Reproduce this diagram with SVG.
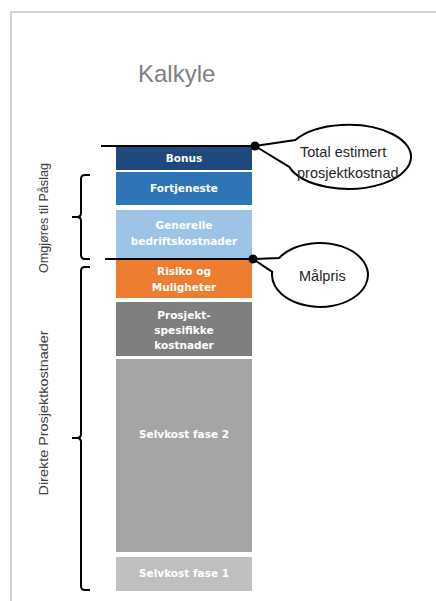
<svg xmlns="http://www.w3.org/2000/svg" width="436" height="601" viewBox="0 0 436 601">
  <style>
    .frame { fill: none; stroke: #c8c8c8; stroke-width: 1.5; }
    .title { font-family: "Liberation Sans", Arial, sans-serif; font-size: 24px; fill: #7f7f7f; }
    .bar-label { font-family: "DejaVu Sans", Verdana, sans-serif; font-size: 10.5px; font-weight: bold; fill: #ffffff; text-anchor: middle; }
    .side-label { font-family: "Liberation Sans", Arial, sans-serif; font-size: 13px; fill: #404040; text-anchor: middle; }
    .call-label { font-family: "Liberation Sans", Arial, sans-serif; font-size: 14.5px; fill: #262626; }
    .rule { stroke: #000000; stroke-width: 2; fill: none; }
    .brace { stroke: #000000; stroke-width: 2; fill: none; stroke-linejoin: round; }
    .bubble { fill: #ffffff; stroke: #000000; stroke-width: 2; stroke-linejoin: round; }
    .dot { fill: #000000; }
  </style>

  <!-- page frame -->
  <path class="frame" d="M11,601 V12 H436"/>

  <text class="title" x="138" y="82">Kalkyle</text>

  <!-- stacked cost bars -->
  <g id="bonus">
    <rect x="116" y="147" width="136" height="23" fill="#1f497d"/>
    <text class="bar-label" x="184" y="162">Bonus</text>
  </g>
  <g id="fortjeneste">
    <rect x="116" y="172" width="136" height="33" fill="#2e75b6"/>
    <text class="bar-label" x="184" y="192">Fortjeneste</text>
  </g>
  <g id="generelle">
    <rect x="116" y="210" width="136" height="48" fill="#9dc3e6"/>
    <text class="bar-label" x="184" y="229">Generelle</text>
    <text class="bar-label" x="184" y="245">bedriftskostnader</text>
  </g>
  <g id="risiko">
    <rect x="116" y="260" width="136" height="38" fill="#ed7d31"/>
    <text class="bar-label" x="184" y="275">Risiko og</text>
    <text class="bar-label" x="184" y="291">Muligheter</text>
  </g>
  <g id="prosjektspesifikke">
    <rect x="116" y="302" width="136" height="54" fill="#7f7f7f"/>
    <text class="bar-label" x="184" y="319">Prosjekt-</text>
    <text class="bar-label" x="184" y="334">spesifikke</text>
    <text class="bar-label" x="184" y="349">kostnader</text>
  </g>
  <g id="selvkost2">
    <rect x="116" y="359" width="136" height="193" fill="#a5a5a5"/>
    <text class="bar-label" x="184" y="438">Selvkost fase 2</text>
  </g>
  <g id="selvkost1">
    <rect x="116" y="557" width="136" height="34" fill="#bfbfbf"/>
    <text class="bar-label" x="184" y="577">Selvkost fase 1</text>
  </g>

  <!-- side braces and labels -->
  <g id="omgjores">
    <path class="brace" d="M90,175 H85 Q81,175 81,179 V213 Q81,217 77,217 H72 M77,217 Q81,217 81,221 V255 Q81,259 85,259 H90"/>
    <text class="side-label" transform="translate(48,218) rotate(-90)" textLength="110" lengthAdjust="spacingAndGlyphs">Omgjøres til Påslag</text>
  </g>
  <g id="direkte">
    <path class="brace" d="M90,267 H85 Q81,267 81,271 V434 Q81,438 77,438 H72 M77,438 Q81,438 81,442 V586 Q81,590 85,590 H90"/>
    <text class="side-label" transform="translate(48,413) rotate(-90)" textLength="165" lengthAdjust="spacingAndGlyphs">Direkte Prosjektkostnader</text>
  </g>

  <!-- connectors: price levels -->
  <g id="connectors">
    <line class="rule" x1="101" y1="146" x2="255" y2="146"/>
    <line class="rule" x1="105" y1="259" x2="253" y2="259"/>
  </g>

  <!-- callouts: ellipse with a wedge tail ending at the level dot -->
  <g id="total">
    <path class="bubble" d="M295.4,140 A62.5,32 0 1 1 289.2,166.9 L255,146 Z"/>
    <circle class="dot" cx="255" cy="146" r="4.5"/>
    <text class="call-label" x="300" y="157">Total estimert</text>
    <text class="call-label" x="297" y="178">prosjektkostnad</text>
  </g>
  <g id="malpris">
    <path class="bubble" d="M279.2,258 A48,32 0 1 1 272.2,271.8 L253,259 Z"/>
    <circle class="dot" cx="253" cy="259" r="4.5"/>
    <text class="call-label" x="299" y="281">Målpris</text>
  </g>
</svg>
